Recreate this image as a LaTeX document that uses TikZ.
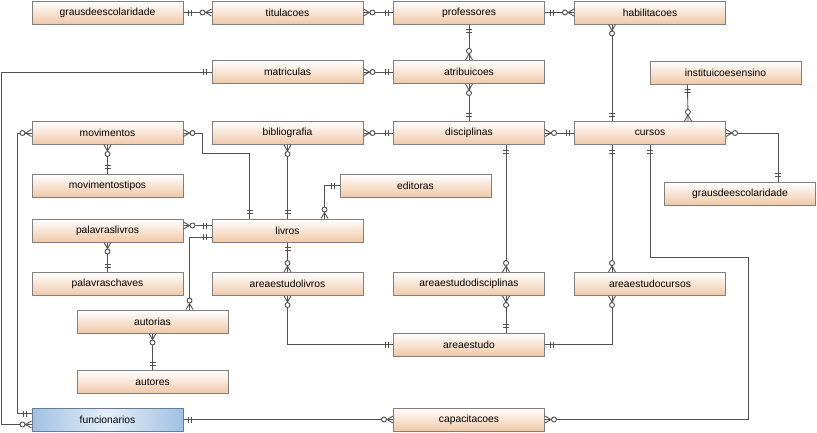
\documentclass[tikz,border=0pt]{standalone}
\usepackage{fontspec}
\setmainfont{Liberation Sans}
\usetikzlibrary{decorations.markings}

\definecolor{linha}{RGB}{80,80,80}
\definecolor{borda}{RGB}{128,128,128}
\definecolor{pessego}{RGB}{240,200,166}
\definecolor{azul}{RGB}{160,192,226}
\definecolor{azulclaro}{RGB}{228,238,248}
\definecolor{bordaazul}{RGB}{105,122,148}

\tikzset{
	tabela/.style={draw=borda, line width=1pt, top color=white, bottom color=pessego,
		minimum width=151pt, minimum height=23pt, inner sep=0pt,
		font=\fontsize{10.3}{12}\selectfont},
	tabelasel/.style={tabela, draw=bordaazul, left color=azul, right color=azul, middle color=azulclaro},
	lig/.style={draw=linha, line width=0.9pt},
	traco/.style={draw=linha, line width=0.9pt},
	um ini/.style={postaction={decorate, decoration={markings,
		mark=at position 5pt with {\draw[traco] (0pt,-3pt) -- (0pt,3pt);},
		mark=at position 8pt with {\draw[traco] (0pt,-3pt) -- (0pt,3pt);}}}},
	um fim/.style={postaction={decorate, decoration={markings,
		mark=at position -5pt with {\draw[traco] (0pt,-3pt) -- (0pt,3pt);},
		mark=at position -8pt with {\draw[traco] (0pt,-3pt) -- (0pt,3pt);}}}},
	n ini/.style={postaction={decorate, decoration={markings,
		mark=at position 6pt with {\draw[traco] (-6pt,3.5pt) -- (0pt,0pt) -- (-6pt,-3.5pt);
			\draw[traco, fill=white] (3pt,0pt) circle (2.5pt);}}}},
	n fim/.style={postaction={decorate, decoration={markings,
		mark=at position -6pt with {\draw[traco] (6pt,3.5pt) -- (0pt,0pt) -- (6pt,-3.5pt);
			\draw[traco, fill=white] (-3pt,0pt) circle (2.5pt);}}}},
}

\begin{document}
\begin{tikzpicture}[x=1pt, y=-1pt]

\useasboundingbox (0,0) rectangle (817,432);

\foreach \nome/\rot/\x/\y in {
	graus1/grausdeescolaridade/107.5/12.5, titulacoes/titulacoes/287.5/12.5,
	professores/professores/469/12.5, habilitacoes/habilitacoes/650/12.5,
	matriculas/matriculas/287.5/72, atribuicoes/atribuicoes/469/72,
	instituicoesensino/instituicoesensino/725.5/72.5,
	movimentos/movimentos/107.5/133, bibliografia/bibliografia/287.5/133,
	disciplinas/disciplinas/469/133, cursos/cursos/650/133,
	movimentostipos/movimentostipos/107.5/185.5, editoras/editoras/415.5/185.5,
	graus2/grausdeescolaridade/740/193.5,
	palavraslivros/palavraslivros/107.5/230.5, livros/livros/287.5/230.5,
	palavraschaves/palavraschaves/107.5/284, areaestudolivros/areaestudolivros/287.5/284,
	areaestudodisciplinas/areaestudodisciplinas/469/284, areaestudocursos/areaestudocursos/650/284,
	autorias/autorias/152.5/321.5, areaestudo/areaestudo/469/344.5,
	autores/autores/152.5/382, capacitacoes/capacitacoes/469/419.5}
	\node[tabela] (\nome) at (\x,\y) {\rot};
\node[tabelasel] (funcionarios) at (107.5,419.5) {funcionarios};

\foreach \a/\b in {graus1/titulacoes, professores/habilitacoes, funcionarios/capacitacoes}
	\draw[lig, um ini, n fim] (\a.east) -- (\b.west);
\foreach \a/\b in {titulacoes/professores, matriculas/atribuicoes, bibliografia/disciplinas, disciplinas/cursos}
	\draw[lig, n ini, um fim] (\a.east) -- (\b.west);
\foreach \a/\b in {professores/atribuicoes, livros/areaestudolivros}
	\draw[lig, um ini, n fim] (\a.south) -- (\b.north);
\foreach \a/\b in {atribuicoes/disciplinas, movimentos/movimentostipos, bibliografia/livros, palavraslivros/palavraschaves, autorias/autores}
	\draw[lig, n ini, um fim] (\a.south) -- (\b.north);

\draw[lig, n ini, um fim] ([xshift=38pt]habilitacoes.south west) -- ([xshift=38pt]cursos.north west);
\draw[lig, um ini, n fim] ([xshift=38pt]instituicoesensino.south west) -- ([xshift=114pt]cursos.north west);
\draw[lig, n ini, um fim] (cursos.east) -| ([xshift=38pt]graus2.north);
\draw[lig, um ini, n fim] ([xshift=113pt]disciplinas.south west) -- ([xshift=113pt]areaestudodisciplinas.north west);
\draw[lig, n ini, um fim] ([xshift=113pt]areaestudodisciplinas.south west) -- ([xshift=113pt]areaestudo.north west);
\draw[lig, um ini, n fim] ([xshift=38pt]cursos.south west) -- ([xshift=38pt]areaestudocursos.north west);
\draw[lig, n ini, um fim] ([xshift=38pt]areaestudocursos.south west) |- (areaestudo.east);
\draw[lig, n ini, um fim] (areaestudolivros.south) |- (areaestudo.west);
\draw[lig, um ini, n fim] (cursos.south) -- ++(0,112) -| ([xshift=203pt]capacitacoes.east) -- (capacitacoes.east);

\draw[lig, n ini, um fim] (movimentos.east) -- ++(19,0) -- ++(0,20) -| ([xshift=38pt]livros.north west);
\draw[lig, um ini, n fim] (editoras.west) -| ([xshift=113pt]livros.north west);
\draw[lig, n ini, um fim] ([yshift=-7pt]palavraslivros.north east) -- ([yshift=-7pt]livros.north west);
\draw[lig, um ini, n fim] ([yshift=5.5pt]livros.south west) -| ([xshift=113pt]autorias.north west);

\draw[lig, um ini, n fim] (matriculas.west) -- ++(-210,0) |- ([yshift=7pt]funcionarios.south west);
\draw[lig, n ini, um fim] (movimentos.west) -- ++(-14,0) |- ([yshift=-6pt]funcionarios.north west);

\end{tikzpicture}
\end{document}
